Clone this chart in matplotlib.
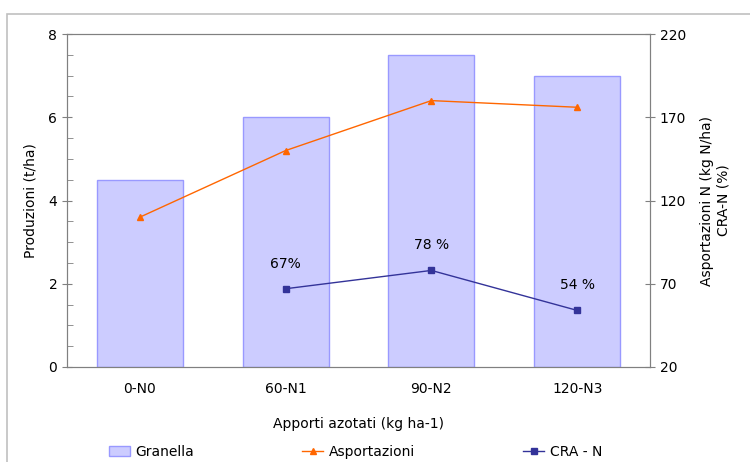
import numpy as np
import matplotlib.pyplot as plt
from matplotlib.patches import Rectangle
from matplotlib.ticker import MultipleLocator

# dati
categorie = ["0-N0", "60-N1", "90-N2", "120-N3"]
granella = [4.5, 6.0, 7.5, 7.0]
asportazioni = [110, 150, 180, 176]
cra_n = [None, 67, 78, 54]
cra_etichette = ["", "67%", "78 %", "54 %"]

plt.rcParams['font.family'] = ['DejaVu Sans']
plt.rcParams['font.size'] = 10

grigio = "#808080"
x = np.arange(len(categorie))

fig = plt.figure(figsize=(7.5, 4.62), dpi=100)
ax = fig.add_axes([67 / 750, 95 / 462, 583 / 750, 333 / 462])

# bordo del grafico
fig.patches.append(Rectangle((7 / 750, -0.1), 1.2, (462 - 14) / 462 + 0.1,
                             transform=fig.transFigure, fill=False,
                             edgecolor="#c0c0c0", linewidth=1.2))

barre = ax.bar(x, granella, width=0.59, color="#ccccff", edgecolor="#9999ff",
               linewidth=1, label="Granella", zorder=2)
ax.set_xlim(-0.5, 3.5)
ax.set_ylim(0, 8)
ax.yaxis.set_major_locator(MultipleLocator(2))
ax.yaxis.set_minor_locator(MultipleLocator(0.5))
ax.tick_params(axis="y", which="major", direction="inout", length=7, color=grigio)
ax.tick_params(axis="y", which="minor", direction="in", length=4, color=grigio)
ax.tick_params(axis="x", length=0, pad=11)
ax.set_xticks(x)
ax.set_xticklabels(categorie)
ax.set_ylabel("Produzioni (t/ha)", labelpad=8)
ax.set_xlabel("Apporti azotati (kg ha-1)", labelpad=15)
for s in ax.spines.values():
    s.set_color(grigio)

ax2 = ax.twinx()
ax2.set_ylim(20, 220)
ax2.set_yticks([20, 70, 120, 170, 220])
ax2.tick_params(axis="y", direction="inout", length=7, color=grigio)
for s in ax2.spines.values():
    s.set_color(grigio)
ax2.set_ylabel("Asportazioni N (kg N/ha)\nCRA-N (%)", labelpad=10)

linea_a, = ax2.plot(x, asportazioni, color="#ff6600", marker="^", markersize=5,
                    linewidth=1, label="Asportazioni", zorder=3)
xc = [i for i, v in enumerate(cra_n) if v is not None]
yc = [v for v in cra_n if v is not None]
linea_c, = ax2.plot(xc, yc, color="#333399", marker="s", markersize=5,
                    linewidth=1, label="CRA - N", zorder=3)
for i in xc:
    ax2.annotate(cra_etichette[i], (i, cra_n[i]), xytext=(0, 18),
                 textcoords="offset points", ha="center", va="center")

fig.legend([barre, linea_a, linea_c], ["Granella", "Asportazioni", "CRA - N"],
           loc="center", bbox_to_anchor=(0.474, 10 / 462), ncol=3,
           frameon=False, handlelength=1.5, columnspacing=7.8, handletextpad=0.4,
           borderpad=0)

fig.savefig("out.png", dpi=100)
